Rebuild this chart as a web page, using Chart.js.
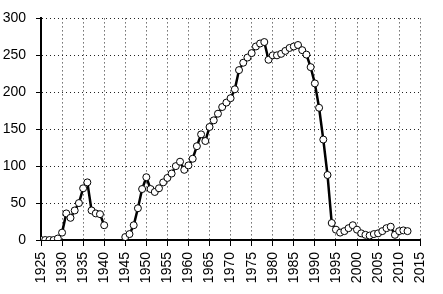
<!DOCTYPE html>
<html>
<head>
<meta charset="utf-8">
<script src="https://cdn.jsdelivr.net/npm/chart.js@4"></script>
<style>
  html, body { margin: 0; padding: 0; background: #fff; }
  #wrap { width: 443px; height: 294px; }
</style>
</head>
<body>
<div id="wrap"><canvas id="chart" width="443" height="294"></canvas></div>
<script>
// years with a reading; null = no data (war gap)
const years = [
  1925, 1926, 1927, 1928, 1929, 1930, 1931, 1932, 1933, 1934,
  1935, 1936, 1937, 1938, 1939, 1940, 1941, 1942, 1943, 1944,
  1945, 1946, 1947, 1948, 1949, 1950, 1951, 1952, 1953, 1954,
  1955, 1956, 1957, 1958, 1959, 1960, 1961, 1962, 1963, 1964,
  1965, 1966, 1967, 1968, 1969, 1970, 1971, 1972, 1973, 1974,
  1975, 1976, 1977, 1978, 1979, 1980, 1981, 1982, 1983, 1984,
  1985, 1986, 1987, 1988, 1989, 1990, 1991, 1992, 1993, 1994,
  1995, 1996, 1997, 1998, 1999, 2000, 2001, 2002, 2003, 2004,
  2005, 2006, 2007, 2008, 2009, 2010, 2011, 2012
];
const values = [
  0, 0, 0, 0, 2, 10, 36, 30, 40, 50,
  70, 78, 40, 36, 35, 20, null, null, null, null,
  4, 8, 20, 43, 69, 85, 69, 65, 70, 78,
  84, 90, 100, 106, 95, 101, 110, 127, 143, 134,
  153, 162, 171, 180, 186, 192, 204, 230, 240, 247,
  253, 262, 266, 268, 244, 250, 250, 252, 256, 260,
  262, 264, 257, 251, 234, 212, 179, 136, 88, 23,
  14, 10, 12, 16, 20, 14, 9, 7, 6, 8,
  9, 12, 16, 18, 7, 12, 13, 12
];

const xMin = 1925, xMax = 2015, xStep = 5;
const yMin = 0, yMax = 300, yStep = 50;

const points = years.map((yr, i) => ({ x: yr, y: values[i] }));

const font = { family: 'Liberation Sans', size: 14 };

new Chart(document.getElementById('chart'), {
    type: 'line',
    data: {
        datasets: [{
            data: points,
            borderColor: '#000',
            borderWidth: 2.5,
            pointRadius: 3.5,
            pointBorderWidth: 1,
            pointBorderColor: '#000',
            pointBackgroundColor: '#fff',
            spanGaps: false,
            tension: 0
        }]
    },
    options: {
        responsive: false,
        animation: false,
        layout: { padding: { top: 10, right: 12, left: 0, bottom: 0 } },
        plugins: { legend: { display: false }, tooltip: { enabled: false } },
        scales: {
            x: {
                type: 'linear',
                min: xMin,
                max: xMax,
                ticks: {
                    stepSize: xStep,
                    color: '#000',
                    font: font,
                    padding: 6,
                    minRotation: 90,
                    maxRotation: 90,
                    callback: v => String(v)
                },
                grid: {
                    color: '#222',
                    lineWidth: 1,
                    drawTicks: true,
                    tickLength: 6,
                    tickColor: '#000'
                },
                border: { display: true, color: '#000', width: 2, dash: [1, 3] },
                afterFit: s => { s.height = 54; }
            },
            y: {
                min: yMin,
                max: yMax,
                ticks: {
                    stepSize: yStep,
                    color: '#000',
                    font: font,
                    padding: 10
                },
                grid: {
                    color: '#222',
                    lineWidth: 1,
                    drawTicks: true,
                    tickLength: 5,
                    tickColor: '#000'
                },
                border: { display: true, color: '#000', width: 2, dash: [1, 3] },
                afterFit: s => { s.width = 41; }
            }
        }
    }
});
</script>
</body>
</html>
